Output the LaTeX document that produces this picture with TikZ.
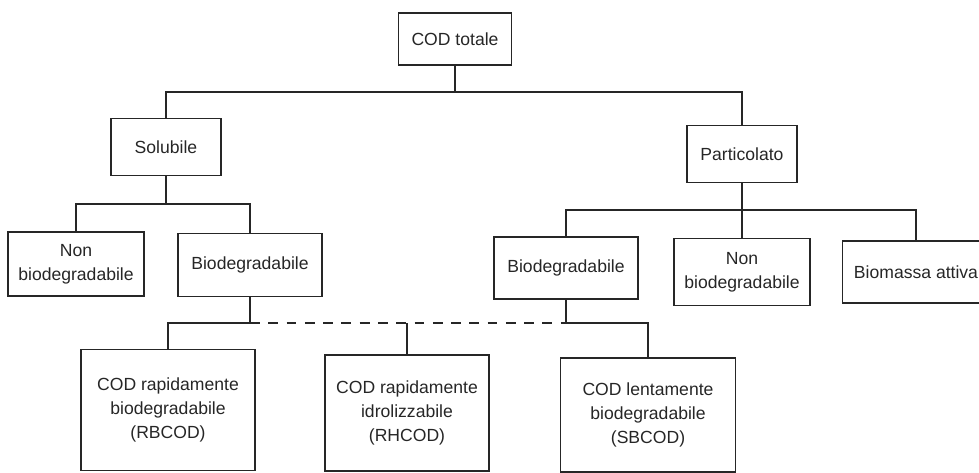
\documentclass[tikz,border=0pt]{standalone}
\usepackage{fontspec}
\setmainfont{Liberation Sans}
\usepackage{tikz}
\usetikzlibrary{positioning,calc}
\tikzset{
  box/.style={draw=black!85, line width=1pt, rectangle, align=center, text=black!85, font=\fontsize{12.5}{17}\selectfont, inner sep=1mm},
  conn/.style={draw=black!85, line width=1pt},
  faintline/.style={conn, dash pattern=on 7pt off 6pt}
}
\begin{document}
\begin{tikzpicture}[x=0.025cm, y=-0.025cm]
\useasboundingbox (0,0) rectangle (979,473);
\clip (0,0) rectangle (979,473);
\node[box, minimum width=2.83cm, minimum height=1.3cm] (cod) at (455,39) {COD totale};
\node[box, minimum width=2.75cm, minimum height=1.43cm] (solubile) at (166,147) {Solubile};
\node[box, minimum width=2.75cm, minimum height=1.43cm] (particolato) at (742,154) {Particolato};
\node[box, minimum width=3.4cm, minimum height=1.6cm] (nonbioS) at (76,264) {Non\\biodegradabile};
\node[box, minimum width=3.6cm, minimum height=1.58cm] (bioS) at (250,265) {Biodegradabile};
\node[box, minimum width=3.6cm, minimum height=1.55cm] (bioP) at (566,268) {Biodegradabile};
\node[box, minimum width=3.4cm, minimum height=1.68cm] (nonbioP) at (742,272) {Non\\biodegradabile};
\node[box, minimum width=3.68cm, minimum height=1.55cm] (biomassa) at (916,272) {Biomassa attiva};
\node[box, minimum width=4.35cm, minimum height=3.03cm] (rbcod) at (168,410) {COD rapidamente\\biodegradabile\\(RBCOD)};
\node[box, minimum width=4.1cm, minimum height=2.9cm] (rhcod) at (407,413) {COD rapidamente\\idrolizzabile\\(RHCOD)};
\node[box, minimum width=4.38cm, minimum height=2.85cm] (sbcod) at (648,415) {COD lentamente\\biodegradabile\\(SBCOD)};

\coordinate (bus1) at (0,92);
\coordinate (bus2) at (0,204);
\coordinate (bus3) at (0,210);
\coordinate (bus4) at (0,323);

\draw[conn] (cod.south) -- (cod.south |- bus1) -| (solubile.north);
\draw[conn] (cod.south |- bus1) -| (particolato.north);
\draw[conn] (solubile.south) -- (solubile.south |- bus2) -| (nonbioS.north);
\draw[conn] (solubile.south |- bus2) -| (bioS.north);
\draw[conn] (particolato.south) -- (particolato.south |- bus3) -| (bioP.north);
\draw[conn] (particolato.south |- bus3) -| (nonbioP.north);
\draw[conn] (particolato.south |- bus3) -| (biomassa.north);
\draw[conn] (bioS.south) -- (bioS.south |- bus4) -| (rbcod.north);
\draw[conn] (bioP.south) -- (bioP.south |- bus4) -| (sbcod.north);
\draw[faintline] (bioS.south |- bus4) -- (bioP.south |- bus4);
\draw[conn] (rhcod.north) -- (rhcod.north |- bus4);
\end{tikzpicture}
\end{document}
